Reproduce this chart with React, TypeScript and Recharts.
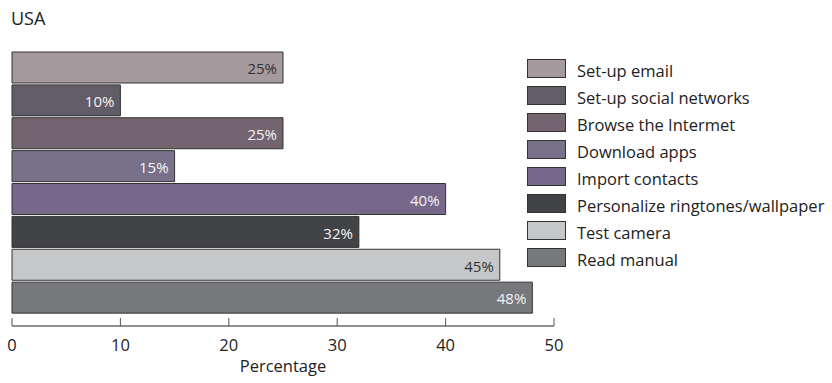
import React from 'react';
import { BarChart, Bar, XAxis, YAxis, Cell, LabelList } from 'recharts';

// Activities, top to bottom
const activities = [
  'Set-up email',
  'Set-up social networks',
  'Browse the Intermet',
  'Download apps',
  'Import contacts',
  'Personalize ringtones/wallpaper',
  'Test camera',
  'Read manual',
];
const percentages = [25, 10, 25, 15, 40, 32, 45, 48];
const barColors = ['#a69a9e', '#625b68', '#73646f', '#787189', '#77678a', '#424346', '#c6c7c9', '#77787c'];
const labelColors = ['#333333', '#f4f4f4', '#f4f4f4', '#f4f4f4', '#f4f4f4', '#f4f4f4', '#333333', '#f4f4f4'];
const xTicks = [0, 10, 20, 30, 40, 50];

const data = activities.map((name, i) => ({ name, value: percentages[i] }));

const FONT = '"Open Sans", "Noto Sans", sans-serif';

// ticks point up into the plot, labels sit below the axis line
const renderTick = (props: any) => {
  const { x, y, payload } = props;
  return (
    <g>
      <line x1={x} y1={y} x2={x} y2={y - 8} stroke="#555" strokeWidth={1} />
      <text x={x} y={y + 25} textAnchor="middle" fontSize={16.5} fill="#222" fontFamily={FONT}>
        {payload.value}
      </text>
    </g>
  );
};

const renderValueLabel = (props: any) => {
  const { x, y, width, height, value, index } = props;
  return (
    <text
      x={x + width - 6}
      y={y + height / 2}
      dy="0.45em"
      textAnchor="end"
      fontSize={15}
      fontFamily={FONT}
      fill={labelColors[index] ?? '#f4f4f4'}
    >
      {value}%
    </text>
  );
};

const App = () => {
  return (
    <div style={{ position: 'absolute', left: 0, top: 0, width: 832, height: 383, fontFamily: FONT, color: '#222' }}>
      <div style={{ position: 'absolute', left: 11, top: 6, fontSize: 18, lineHeight: 'normal' }}>USA</div>

      <BarChart
        width={832}
        height={383}
        data={data}
        layout="vertical"
        margin={{ top: 35, right: 278, bottom: 0, left: 12 }}
      >
        <XAxis
          type="number"
          domain={[0, 50]}
          ticks={xTicks}
          height={57}
          axisLine={{ stroke: '#222', strokeWidth: 1 }}
          tickLine={false}
          tickSize={0}
          tickMargin={0}
          tick={renderTick}
          interval={0}
          label={{ value: 'Percentage', position: 'insideBottom', offset: 11, fill: '#222', fontSize: 16.5, fontFamily: FONT }}
        />
        <YAxis
          type="category"
          dataKey="name"
          width={0}
          tick={false}
          tickLine={false}
          axisLine={{ stroke: '#222', strokeWidth: 1 }}
          padding={{ top: 16, bottom: 12 }}
        />
        <Bar dataKey="value" barSize={31} stroke="#333" strokeWidth={1} isAnimationActive={false}>
          {data.map((d, i) => (
            <Cell key={d.name} fill={barColors[i]} />
          ))}
          <LabelList dataKey="value" content={renderValueLabel} />
        </Bar>
      </BarChart>

      <div style={{ position: 'absolute', left: 527, top: 59 }}>
        {activities.map((name, i) => (
          <div key={name} style={{ display: 'flex', alignItems: 'center', height: 18, marginBottom: 9 }}>
            <div
              style={{
                width: 37,
                height: 17,
                background: barColors[i],
                border: '1px solid #333',
                marginRight: 11,
                flexShrink: 0,
              }}
            />
            <span style={{ fontSize: 16.5, whiteSpace: 'nowrap', position: 'relative', top: 2 }}>{name}</span>
          </div>
        ))}
      </div>
    </div>
  );
};

export default App;
